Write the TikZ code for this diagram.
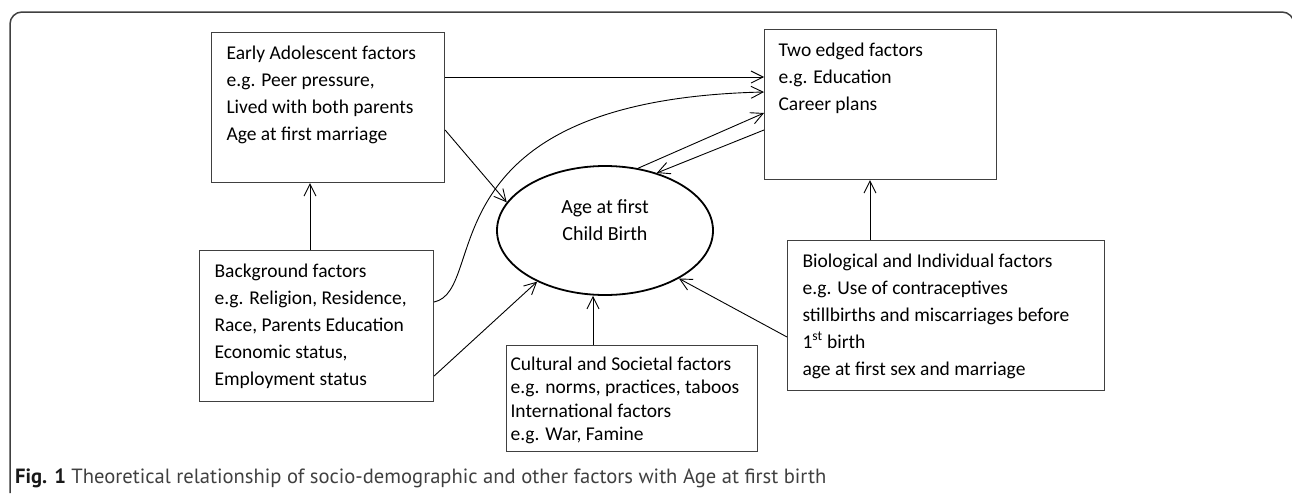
\documentclass[tikz,border=0pt]{standalone}
\usepackage{fontspec}
\setmainfont{Carlito}
\newfontfamily\capfont{PT Sans}
\usetikzlibrary{arrows.meta,positioning,shapes.geometric}

\colorlet{frame}{black!75}
\colorlet{boxline}{black!75}
\colorlet{captext}{black!75}
\newcommand{\factortext}[4]{\parbox[c][#2][t]{#1}{\raggedright\leftskip=#3\relax\vspace*{8pt}\strut#4}}
\tikzset{
  factor/.style={draw=boxline,line width=1.1pt,anchor=north west,inner sep=0pt,
    font=\fontsize{19.5}{27}\selectfont},
  link/.style={-{Straight Barb[length=12pt,width=12pt]},line width=0.9pt},
}

\begin{document}
\begin{tikzpicture}[x=1pt,y=1pt]
    \useasboundingbox (0,0) rectangle (1292,-493);
    \draw [frame,line width=1.5pt,rounded corners=12pt]
      (10,-493) -- (10,-12) -- (1294,-12) -- (1294,-493);

    \node [factor] (early) at (211,-32)
      {\factortext{233pt}{150pt}{15pt}{Early Adolescent factors\\e.g. Peer pressure,\\Lived with both parents\\Age at first marriage}};
    \node [factor] (two) at (764,-29)
      {\factortext{232pt}{150pt}{14pt}{Two edged factors\\e.g. Education\\Career plans}};
    \node [factor] (bg) at (199,-250)
      {\factortext{234pt}{151pt}{15pt}{Background factors\\e.g. Religion, Residence,\\Race, Parents Education\\Economic status,\\Employment status}};
    \node [factor,font=\fontsize{19.5}{23.5}\selectfont] (cult) at (506,-345)
      {\factortext{251pt}{106pt}{4pt}{Cultural and Societal factors\\e.g. norms, practices, taboos\\International factors\\e.g. War, Famine}};
    \node [factor] (bio) at (787,-240)
      {\factortext{317pt}{150pt}{15pt}{Biological and Individual factors\\e.g. Use of contraceptives\\stillbirths and miscarriages before\\1\textsuperscript{st} birth\\age at first sex and marriage}};
    \node [ellipse,draw,line width=1.8pt,minimum width=216pt,minimum height=129pt,
      inner sep=0pt,align=center,font=\fontsize{20}{27}\selectfont,
      text height=40pt,text depth=21pt] (age) at (605,-230.5) {Age at first\\Child Birth};

    \draw [link] ([yshift=-45pt]early.north east) -- ([yshift=-48pt]two.north west);
    \draw [link] ([yshift=-52pt]bg.north east)
      .. controls +(56,12) and +(-344,-8) .. ([yshift=-63pt]two.north west);
    \draw [link] ([yshift=-98pt]early.north east) -- (age.164);
    \draw [link] (age.62) -- ([yshift=-84pt]two.north west);
    \draw [link] ([yshift=-101pt]two.north west) -- (age.48);
    \draw [link] ([yshift=-126pt]bg.north east) -- (age.217);
    \draw [link] ([xshift=87pt]cult.north west) -- ([xshift=-12pt]age.south);
    \draw [link] ([yshift=-97pt]bio.north west) -- (age.-33);
    \draw [link] ([xshift=83pt]bio.north west) -- ([xshift=106pt]two.south west);
    \draw [link] ([xshift=111pt]bg.north west) -- ([xshift=99pt]early.south west);

    \node [anchor=west,inner sep=0pt,text=captext,font=\capfont\fontsize{20.6}{24}\selectfont]
      (caption) at (15,-478)
      {\textbf{\color{black!90}Fig. 1} Theoretical relationship of socio-demographic and other factors with Age at first birth};
  \end{tikzpicture}
\end{document}
